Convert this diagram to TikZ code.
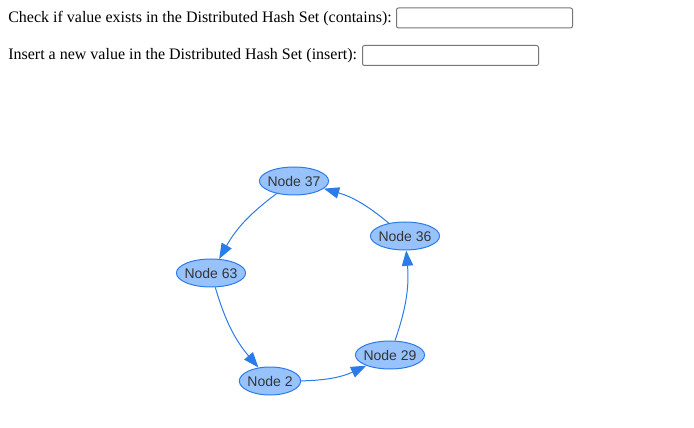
\documentclass[tikz,border=0pt]{standalone}
\usepackage{fontspec}
\setmainfont{Liberation Serif}
\newfontfamily\nodefont{Liberation Sans}
\usetikzlibrary{positioning,arrows.meta,shapes.geometric}
\definecolor{hsFill}{HTML}{97C2FC}
\definecolor{hsBlue}{HTML}{2B7CE9}
\definecolor{hsText}{HTML}{343434}
\definecolor{hsInput}{HTML}{767676}
\tikzset{
  hs/query/.style={inner sep=0pt, font=\fontsize{12}{14}\selectfont},
  hs/input/.style={draw=hsInput, line width=0.75pt, rounded corners=1.5pt,
                   minimum width=132pt, minimum height=15pt, inner sep=0pt},
  hs/ring/.style={ellipse, draw=hsBlue, fill=hsFill, line width=0.75pt,
                  inner xsep=-1.5pt, inner ysep=0pt, minimum width=46pt,
                  minimum height=21pt, text=hsText,
                  font=\nodefont\fontsize{10.5}{12}\selectfont},
  hs/link/.style={-{Triangle[length=11.5pt, width=8.5pt]}, line width=0.75pt,
                  draw=hsBlue, bend right=12},
}

\begin{document}
\begin{tikzpicture}[x=0.75pt, y=-0.75pt]

  \useasboundingbox (0,0) rectangle (694,428);

  % ---------------- query fields ----------------
  \node[hs/query, anchor=base west] (containslbl) at (8,22.5)
    {Check if value exists in the Distributed Hash Set (contains):};
  \node[hs/input, anchor=west] (containsbox) at (396,18) {};

  \node[hs/query, anchor=base west] (insertlbl) at (8,59.5)
    {Insert a new value in the Distributed Hash Set (insert):};
  \node[hs/input, anchor=west] (insertbox) at (362,55.5) {};

  % ---------------- ring of nodes ----------------
  \node[hs/ring] (n37) at (294,181) {Node 37};
  \node[hs/ring] (n36) at (405,236) {Node 36};
  \node[hs/ring] (n63) at (211,273) {Node 63};
  \node[hs/ring] (n29) at (390,355) {Node 29};
  \node[hs/ring] (n2)  at (270,381) {Node 2};

  % successor links
  \draw[hs/link] (n37) to (n63);
  \draw[hs/link] (n63) to (n2);
  \draw[hs/link] (n2)  to (n29);
  \draw[hs/link] (n29) to (n36);
  \draw[hs/link] (n36) to (n37);

\end{tikzpicture}
\end{document}
